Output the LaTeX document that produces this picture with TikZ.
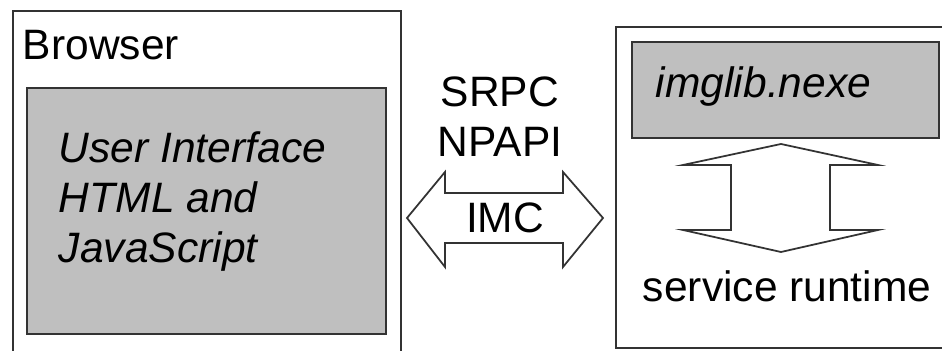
\documentclass[tikz,border=0pt]{standalone}
\usepackage{fontspec}
\setmainfont{Liberation Sans}
\usetikzlibrary{positioning}

\begin{document}
\begin{tikzpicture}[line width=1.1pt,font=\fontsize{24.2}{28.45}\selectfont]
\tikzstyle{frame}=[draw=black!80]
\tikzstyle{mod}=[draw=black!80,fill=black!25]
\tikzstyle{lbl}=[inner sep=0pt,anchor=base west]
\clip (0,0) rectangle (18.84,7.02);
% browser side
\draw[frame] (0.26,-0.3) rectangle (8.02,6.8);
\node[lbl] (browser) at (0.44,5.82) {Browser};
\draw[mod] (0.54,0.34) rectangle (7.72,5.26);
\node[inner sep=0pt,anchor=west,align=left,font=\fontsize{24.2}{28.45}\selectfont\itshape] (ui) at (1.16,2.98) {User Interface\\HTML and\\JavaScript};
% plugin side
\draw[frame] (12.32,0.06) rectangle (19.2,6.48);
\draw[mod] (12.64,4.26) rectangle (18.78,6.18);
\node[lbl,font=\fontsize{24.2}{28.45}\selectfont\itshape] (nexe) at (13.1,5.06) {imglib.nexe};
\node[lbl] (runtime) at (12.84,0.98) {service runtime};
% arrows
\node[align=center,inner sep=0pt] (srpc) at (10.0,4.68) {SRPC\\NPAPI};
\draw[frame,line width=1pt,line join=miter] (8.14,2.66) -- (8.9,3.58) -- (8.9,3.16) -- (11.26,3.16) -- (11.26,3.58) -- (12.06,2.66)
  -- (11.26,1.68) -- (11.26,2.16) -- (8.9,2.16) -- (8.9,1.68) -- cycle;
\node[inner sep=0pt] (imc) at (10.1,2.66) {IMC};
\draw[frame,line width=1pt,line join=miter] (15.62,4.14) -- (17.56,3.72) -- (16.6,3.72) -- (16.6,2.42) -- (17.56,2.42) -- (15.62,1.98)
  -- (13.66,2.42) -- (14.62,2.42) -- (14.62,3.72) -- (13.66,3.72) -- cycle;
\end{tikzpicture}
\end{document}
